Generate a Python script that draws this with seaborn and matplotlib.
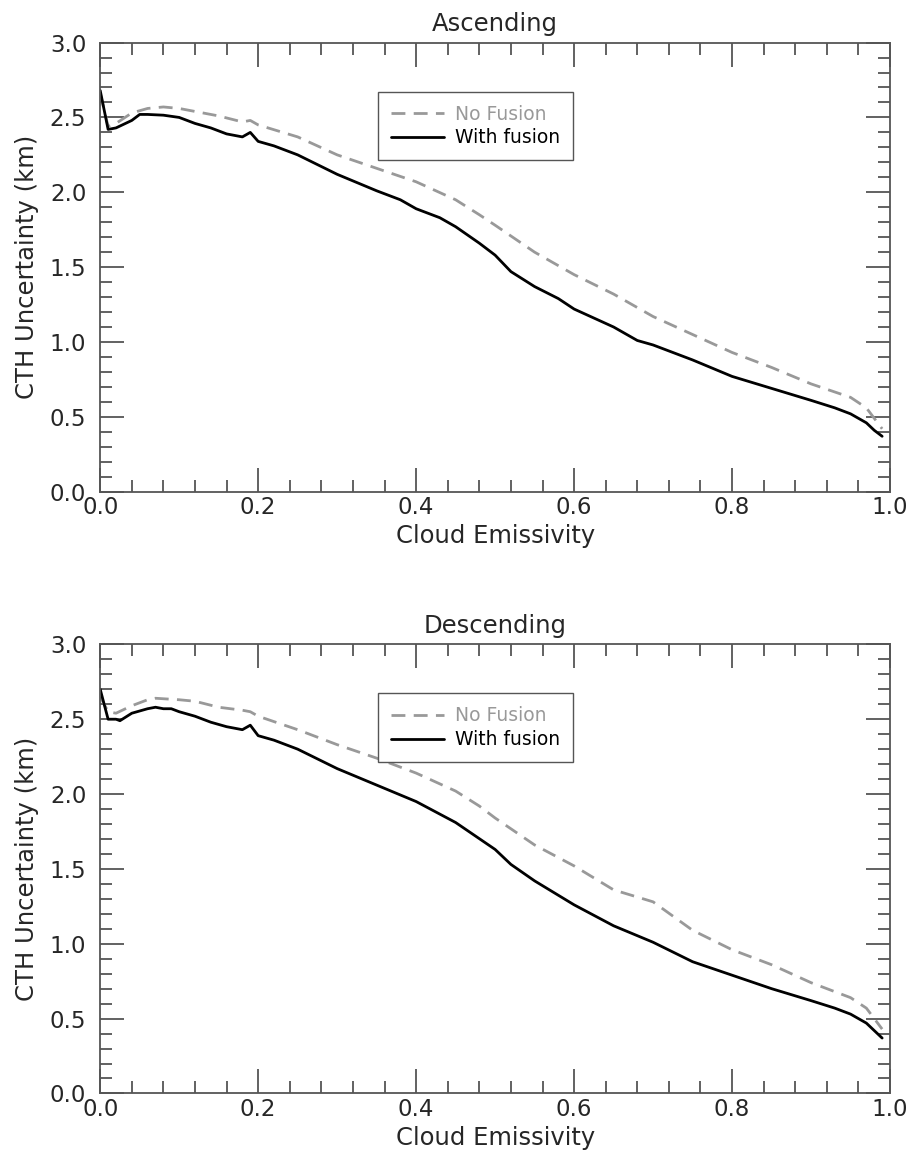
import numpy as np
import pandas as pd
import seaborn as sns
import matplotlib.pyplot as plt
from matplotlib.ticker import MultipleLocator

# Ascending
asc_fusion_x = [0.0, 0.01, 0.02, 0.04, 0.05, 0.06, 0.08, 0.10, 0.12, 0.14, 0.16,
                0.18, 0.19, 0.20, 0.22, 0.25, 0.30, 0.35, 0.38, 0.40, 0.43, 0.45,
                0.48, 0.50, 0.52, 0.55, 0.58, 0.60, 0.65, 0.68, 0.70, 0.75, 0.80,
                0.85, 0.90, 0.93, 0.95, 0.97, 0.98, 0.99]
asc_fusion_y = [2.68, 2.42, 2.43, 2.48, 2.52, 2.52, 2.515, 2.50, 2.46, 2.43, 2.39,
                2.37, 2.40, 2.34, 2.31, 2.25, 2.12, 2.01, 1.95, 1.89, 1.83, 1.77,
                1.66, 1.58, 1.47, 1.37, 1.29, 1.22, 1.10, 1.01, 0.98, 0.88, 0.77,
                0.69, 0.61, 0.56, 0.52, 0.46, 0.41, 0.37]
asc_nofusion_x = [0.0, 0.01, 0.02, 0.04, 0.06, 0.08, 0.10, 0.12, 0.15, 0.18, 0.19,
                  0.20, 0.25, 0.30, 0.35, 0.40, 0.45, 0.48, 0.50, 0.55, 0.60, 0.65,
                  0.70, 0.75, 0.80, 0.85, 0.90, 0.95, 0.97, 0.98, 0.99]
asc_nofusion_y = [2.66, 2.44, 2.46, 2.53, 2.56, 2.57, 2.56, 2.54, 2.51, 2.47, 2.48,
                  2.45, 2.37, 2.25, 2.16, 2.07, 1.95, 1.85, 1.78, 1.60, 1.45, 1.32,
                  1.17, 1.05, 0.93, 0.83, 0.72, 0.63, 0.56, 0.49, 0.42]

# Descending
desc_fusion_x = [0.0, 0.01, 0.02, 0.025, 0.04, 0.06, 0.07, 0.08, 0.09, 0.10, 0.12,
                 0.14, 0.16, 0.18, 0.19, 0.20, 0.22, 0.25, 0.30, 0.35, 0.40, 0.45,
                 0.50, 0.52, 0.55, 0.60, 0.65, 0.70, 0.75, 0.80, 0.85, 0.90, 0.93,
                 0.95, 0.97, 0.98, 0.99]
desc_fusion_y = [2.70, 2.50, 2.50, 2.49, 2.54, 2.57, 2.58, 2.57, 2.57, 2.55, 2.52,
                 2.48, 2.45, 2.43, 2.46, 2.39, 2.36, 2.30, 2.17, 2.06, 1.95, 1.81,
                 1.63, 1.53, 1.42, 1.26, 1.12, 1.01, 0.88, 0.79, 0.70, 0.62, 0.57,
                 0.53, 0.47, 0.42, 0.37]
desc_nofusion_x = [0.0, 0.01, 0.02, 0.04, 0.06, 0.07, 0.10, 0.12, 0.15, 0.18, 0.19,
                   0.20, 0.25, 0.30, 0.35, 0.40, 0.45, 0.48, 0.50, 0.55, 0.60, 0.65,
                   0.70, 0.75, 0.80, 0.85, 0.90, 0.95, 0.97, 0.98, 0.99]
desc_nofusion_y = [2.65, 2.55, 2.54, 2.59, 2.63, 2.64, 2.63, 2.62, 2.58, 2.56, 2.55,
                   2.52, 2.43, 2.33, 2.24, 2.14, 2.02, 1.92, 1.84, 1.66, 1.52, 1.36,
                   1.28, 1.09, 0.96, 0.86, 0.74, 0.64, 0.57, 0.50, 0.43]

titles = ["Ascending", "Descending"]
labels = ["No Fusion", "With fusion"]
AXIS_COLOR = "#555555"


def make_panel(ax, title, nf_x, nf_y, wf_x, wf_y):
    df = pd.concat([
        pd.DataFrame({"x": nf_x, "y": nf_y, "kind": labels[0]}),
        pd.DataFrame({"x": wf_x, "y": wf_y, "kind": labels[1]}),
    ])
    sns.lineplot(data=df, x="x", y="y", hue="kind", style="kind",
                 palette={labels[0]: "#999999", labels[1]: "black"},
                 dashes={labels[0]: (5, 3), labels[1]: ""},
                 linewidth=2, ax=ax, sort=False)

    ax.set_xlim(0, 1)
    ax.set_ylim(0, 3)
    ax.xaxis.set_major_locator(MultipleLocator(0.2))
    ax.xaxis.set_minor_locator(MultipleLocator(0.04))
    ax.yaxis.set_major_locator(MultipleLocator(0.5))
    ax.yaxis.set_minor_locator(MultipleLocator(0.1))
    ax.xaxis.set_major_formatter(lambda v, p: f"{v:.1f}")
    ax.yaxis.set_major_formatter(lambda v, p: f"{v:.1f}")
    ax.tick_params(which="both", direction="in", top=True, right=True,
                   bottom=True, left=True, color=AXIS_COLOR, width=1.3)
    ax.tick_params(axis="x", which="major", length=17, labelsize=16.5, pad=3)
    ax.tick_params(axis="y", which="major", length=17, labelsize=16.5, pad=10)
    ax.tick_params(which="minor", length=8.5)
    for s in ax.spines.values():
        s.set_color(AXIS_COLOR)
        s.set_linewidth(1.3)

    ax.set_title(title, fontsize=17.5, pad=8)
    ax.set_xlabel("Cloud Emissivity", fontsize=17.5, labelpad=4)
    ax.set_ylabel("CTH Uncertainty (km)", fontsize=17.5, labelpad=8)

    leg = ax.legend(loc="upper left", bbox_to_anchor=(0.352, 0.891),
                    borderaxespad=0, fontsize=13.5, frameon=True,
                    fancybox=False, handlelength=2.8, borderpad=0.7,
                    labelspacing=0.25, handletextpad=0.6, framealpha=1)
    leg.get_frame().set_edgecolor(AXIS_COLOR)
    leg.get_frame().set_linewidth(1.0)
    leg.set_title(None)
    for t, c in zip(leg.get_texts(), ["#999999", "black"]):
        t.set_color(c)


sns.set_style("white")
plt.rcParams['font.family'] = ['DejaVu Sans']

fig, axes = plt.subplots(2, 1, figsize=(9.11, 11.51), dpi=100)
fig.subplots_adjust(left=0.11, right=0.977, top=0.963, bottom=0.05, hspace=0.34)

make_panel(axes[0], titles[0], asc_nofusion_x, asc_nofusion_y,
           asc_fusion_x, asc_fusion_y)
make_panel(axes[1], titles[1], desc_nofusion_x, desc_nofusion_y,
           desc_fusion_x, desc_fusion_y)

fig.savefig("out.png", dpi=100)
